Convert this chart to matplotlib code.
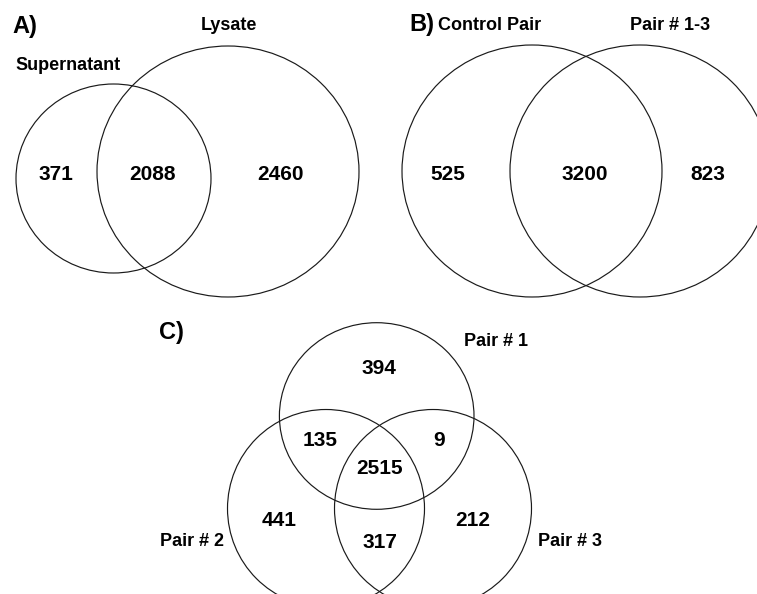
import matplotlib
matplotlib.use("Agg")
import matplotlib.pyplot as plt
from matplotlib.patches import Ellipse

plt.rcParams['font.family'] = ['Liberation Sans', 'DejaVu Sans']

# ---- data ----
panel_letters = ["A)", "B)", "C)"]

a_sets = ["Supernatant", "Lysate"]
a_counts = [371, 2088, 2460]          # Supernatant only, both, Lysate only

b_sets = ["Control Pair", "Pair # 1-3"]
b_counts = [525, 3200, 823]           # Control only, both, Pair 1-3 only

c_sets = ["Pair # 1", "Pair # 2", "Pair # 3"]
c_counts = [394, 135, 9, 2515, 441, 317, 212]  # 1, 1&2, 1&3, all, 2, 2&3, 3

# ---- figure ----
W, H = 757, 594
fig = plt.figure(figsize=(W / 100, H / 100), dpi=100)
ax = fig.add_axes([0, 0, 1, 1])
ax.set_xlim(0, W)
ax.set_ylim(H, 0)
ax.axis('off')

lc = '#1a1a1a'
lw = 0.85


def ell(cx, cy, rx, ry):
    ax.add_patch(Ellipse((cx, cy), 2 * rx, 2 * ry, fill=False,
                         edgecolor=lc, linewidth=lw))


num_fs = 15
lab_fs = 13
let_fs = 17


def txt(x, y, s, fs, ha='center'):
    ax.text(x, y, s, fontsize=fs, fontweight='bold', ha=ha, va='center',
            color='black')


# Panel A
ell(113.5, 178.5, 97.5, 94.5)
ell(228, 171.5, 131, 125.5)
txt(12, 26, panel_letters[0], let_fs, ha='left')
txt(68, 65, a_sets[0], lab_fs)
txt(229, 25, a_sets[1], lab_fs)
for (x, y), v in zip([(56, 174), (153, 174), (280, 174)], a_counts):
    txt(x, y, str(v), num_fs)

# Panel B
ell(532, 171, 130, 126)
ell(640, 171, 130, 126)
txt(409, 25, panel_letters[1], let_fs, ha='left')
txt(490, 26, b_sets[0], lab_fs)
txt(670, 26, b_sets[1], lab_fs)
for (x, y), v in zip([(448, 174), (585, 174), (708, 174)], b_counts):
    txt(x, y, str(v), num_fs)

# Panel C
ell(376.7, 416, 97.3, 93.3)
ell(326, 508.5, 98.5, 99)
ell(433, 508.5, 98.5, 99)
txt(159, 332, panel_letters[2], let_fs, ha='left')
txt(496, 342, c_sets[0], lab_fs)
txt(192, 541, c_sets[1], lab_fs)
txt(570, 541, c_sets[2], lab_fs)
c_pos = [(379, 368), (320, 441), (439, 441), (380, 468),
         (279, 521), (380, 543), (473, 521)]
for (x, y), v in zip(c_pos, c_counts):
    txt(x, y, str(v), num_fs)

fig.savefig("out.png", dpi=100)
